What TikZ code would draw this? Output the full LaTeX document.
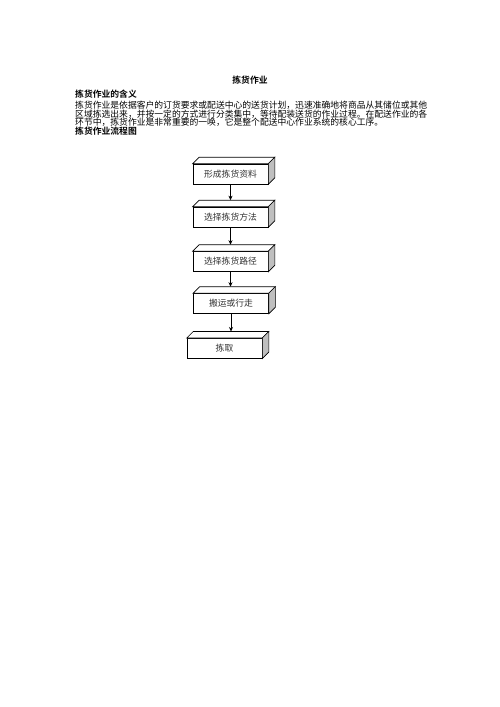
\documentclass[tikz,border=0pt]{standalone}
\usepackage{fontspec}
\newfontfamily\cjk{Noto Sans CJK SC}
\newfontfamily\cjkb{Noto Sans CJK SC Bold}
\usetikzlibrary{arrows.meta,calc}
\tikzset{
  txt/.style={anchor=west,inner sep=0pt,font=\cjk\fontsize{8.8bp}{8.8bp}\selectfont},
  hd/.style={anchor=west,inner sep=0pt,font=\cjkb\fontsize{8.8bp}{8.8bp}\selectfont},
  stepbox/.style={draw=black,line width=0.6bp,fill=white,minimum width=75bp,minimum height=20bp,inner sep=0pt,
    font=\cjk\fontsize{8.8bp}{8.8bp}\selectfont,text=black!80},
  topface/.style={draw=black,line width=0.6bp,fill=white},
  sideface/.style={draw=black,line width=0.6bp,fill=black!25},
  flow/.style={line width=0.6bp,-{Stealth[length=4.5bp,width=4bp]}}
}
\newcommand{\cubeface}[1]{%
  \draw[topface] (#1.north west) -- ++(6.5,-6.5) -- ($(#1.north east)+(6.5,-6.5)$) -- (#1.north east) -- cycle;
  \draw[sideface] (#1.north east) -- ++(6.5,-6.5) -- ($(#1.south east)+(6.5,-6.5)$) -- (#1.south east) -- cycle;
  \coordinate (#1t) at ($(#1.north)+(0,-6.5)$);
}
\begin{document}
\begin{tikzpicture}[x=1bp,y=-1bp]
\useasboundingbox[fill=white] (0,0) rectangle (500,707);
\node[hd,anchor=center] (title) at (250,80) {拣货作业};
\node[hd] (h1) at (75,94) {拣货作业的含义};
\node[txt] (l1) at (75,105) {拣货作业是依据客户的订货要求或配送中心的送货计划，迅速准确地将商品从其储位或其他};
\node[txt] (l2) at (75,114) {区域拣选出来，并按一定的方式进行分类集中，等待配装送货的作业过程。在配送作业的各};
\node[txt] (l3) at (75,122.7) {环节中，拣货作业是非常重要的一唤，它是整个配送中心作业系统的核心工序。};
\node[hd] (h2) at (75,131.5) {拣货作业流程图};

\node[stepbox] (b1) at (230.5,174) {形成拣货资料};
\node[stepbox] (b2) at (230.5,217) {选择拣货方法};
\node[stepbox] (b3) at (230.5,261.5) {选择拣货路径};
\node[stepbox] (b4) at (231,303.5) {搬运或行走};
\node[stepbox] (b5) at (224.5,348.3) {拣取};
\cubeface{b1}
\cubeface{b2}
\cubeface{b3}
\cubeface{b4}
\cubeface{b5}
\draw[flow] (b1.south) -- (b1.south |- b2t);
\draw[flow] (b2.south) -- (b2.south |- b3t);
\draw[flow] (b3.south) -- (b3.south |- b4t);
\draw[flow] (b4.south) -- (b4.south |- b5t);
\end{tikzpicture}
\end{document}
